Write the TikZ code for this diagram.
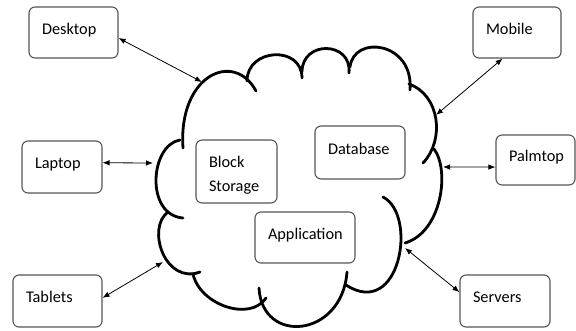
\documentclass[tikz,border=0pt]{standalone}
\usepackage{fontspec}
\setmainfont{Carlito}
\usetikzlibrary{arrows.meta}
\definecolor{borde}{HTML}{555555}

\begin{document}
\begin{tikzpicture}[x=1pt,y=-1pt,
  box/.style={draw=borde,line width=1.1pt,rounded corners=6pt,align=left,text width=#1,
    inner xsep=13pt,inner ysep=0pt,minimum height=51pt,text height=12pt,text depth=9pt,
    font=\fontsize{16.3}{24}\selectfont},
  lobe/.style={line width=2.8pt,line cap=round},
  link/.style={{Latex[length=7pt,width=5.5pt]}-{Latex[length=7pt,width=5.5pt]},line width=0.8pt}]
  \useasboundingbox (0,0) rectangle (576,330);

  % cloud, one curve per lobe
  \draw[lobe] (183,148) .. controls (178,75) and (234,50) .. (256,91);
  \draw[lobe] (247,81) .. controls (247,48) and (302,45) .. (302,78);
  \draw[lobe] (302,72) .. controls (302,40) and (352,41) .. (349,73);
  \draw[lobe] (350,67) .. controls (354,34) and (414,42) .. (410,90);
  \draw[lobe] (409,84) .. controls (440,95) and (445,140) .. (423,163);
  \draw[lobe] (434,149) .. controls (450,170) and (442,232) .. (405,243);
  \draw[lobe] (383,197) .. controls (418,215) and (400,320) .. (346,285);
  \draw[lobe] (347,272) .. controls (342,338) and (262,345) .. (259,288);
  \draw[lobe] (193,274) .. controls (200,305) and (250,322) .. (266,298);
  \draw[lobe] (168,212) .. controls (146,228) and (165,285) .. (200,272);
  \draw[lobe] (180,140) .. controls (150,145) and (145,215) .. (183,218);

  % inside the cloud
  \node[box=55pt,minimum height=63pt,text depth=21pt] (blk) at (236.5,171.5) {Block\\Storage};
  \node[box=64pt,minimum height=53pt] (db) at (360,152.5) {Database};
  \node[box=74pt] (app) at (305,237.5) {Application};

  % devices round it
  \node[box=63pt] (desk) at (73.5,32.5) {Desktop};
  \node[box=62pt] (mob) at (517,32.5) {Mobile};
  \node[box=54pt,minimum height=52pt] (lap) at (62,167) {Laptop};
  \node[box=53pt,minimum height=50pt] (pal) at (535.5,160) {Palmtop};
  \node[box=63pt,minimum height=52pt] (tab) at (57.5,301) {Tablets};
  \node[box=64pt,minimum height=52pt] (srv) at (505,301) {Servers};

  \coordinate (cdesk) at (202,82);
  \coordinate (cmob) at (436,115);
  \coordinate (clap) at (153,163);
  \coordinate (cpal) at (443,167);
  \coordinate (ctab) at (163,262);
  \coordinate (csrv) at (405,248);

  \draw[link] (desk.-7) -- (cdesk);
  \draw[link] (mob.-119) -- (cmob);
  \draw[link] (lap.6) -- (clap);
  \draw[link] (pal.190) -- (cpal);
  \draw[link] (tab.4) -- (ctab);
  \draw[link] (srv.169) -- (csrv);
\end{tikzpicture}
\end{document}
